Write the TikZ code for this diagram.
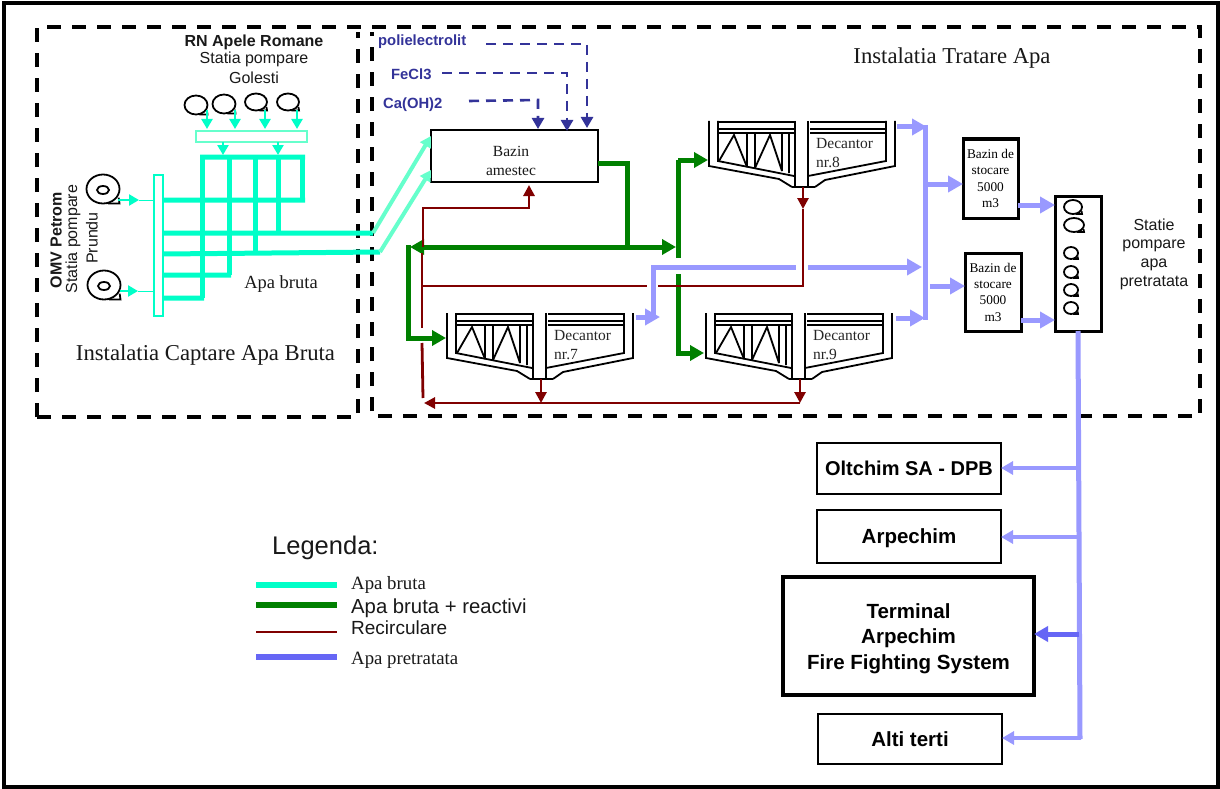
\documentclass[tikz,border=0pt]{standalone}
\usepackage{fontspec}
\setmainfont{Liberation Serif}
\setsansfont{Liberation Sans}
\usetikzlibrary{arrows.meta,calc}
\definecolor{teal1}{HTML}{00FFC8}
\definecolor{teal2}{HTML}{66FFCC}
\definecolor{grn}{HTML}{008000}
\definecolor{rec}{HTML}{800000}
\definecolor{blu}{HTML}{9999FF}
\definecolor{blud}{HTML}{6666F5}
\definecolor{reag}{HTML}{333399}
\newcommand{\fsz}[1]{\fontsize{#1}{#1}\selectfont}
\newcommand{\decanter}[3]{%
 \begin{scope}[shift={(#1,#2)}]
  \draw[decline] (0,0)--(0,45)--(70,58)--(83,66);
  \draw[decline] (9,0)--(9,40)--(85,55);
  \foreach \yy in {1,8,12}{\draw[decline] (9,\yy)--(85,\yy);\draw[decline] (101,\yy)--(176,\yy);}
  \draw[decline] (86,0)--(86,66) (99,0)--(99,66) (83,66)--(106,66);
  \draw[decline] (10,40)--(25,14)--(38,46) (38,12)--(38,46) (46,12)--(46,47);
  \draw[decline] (46,47)--(61,14)--(73,50) (73,12)--(73,50) (80,12)--(80,52);
  \draw[decline] (177,0)--(177,40)--(99,55);
  \draw[decline] (186,0)--(186,45)--(116,59)--(106,66);
 \end{scope}%
 \node[declabel,anchor=north west,align=left] (d#3) at ($(#1,#2)+(107,17)$) {Decantor\\[3.5pt]nr.#3};%
}
\newcommand{\pumpc}[4]{%
 \begin{scope}[shift={(#1,#2)},xscale=#3,yscale=#4]
  \draw[black,line width=1.8pt] (0,0) circle[radius=1];
  \draw[black,line width=1.8pt] (0.3,1)--(1,1)--(0.95,0.6);
 \end{scope}}
\tikzset{
 x=1pt,y=-1pt,
 decline/.style={black,line width=1.8pt,line cap=butt},
 declabel/.style={inner sep=0pt,font=\fsz{15.5},text=black!85},
 box/.style={draw=black,line width=2.5pt,fill=white,inner sep=0pt,align=center,outer sep=0pt},
 txt/.style={inner sep=0pt,align=center,text=black!90},
 sanstxt/.style={txt,font=\sffamily\fsz{16}},
 sansb/.style={txt,font=\sffamily\bfseries\fsz{16}},
 reagtxt/.style={inner sep=0pt,font=\sffamily\bfseries\fsz{14.8},text=reag},
 tank/.style={box,line width=3pt,font=\fsz{13.3},minimum width=55pt,minimum height=79pt},
 dest/.style={box,font=\sffamily\bfseries\fsz{20.5}},
 frontier/.style={black,line width=3.5pt,dash pattern=on 14pt off 11pt},
 rawp/.style={teal1,line width=5pt},
 rawa/.style={teal1,line width=2.5pt,-{Triangle[length=10pt,width=11pt]}},
 rawb/.style={teal2,line width=4pt,-{Triangle[length=11pt,width=12pt]}},
 greenp/.style={grn,line width=5pt},
 greena/.style={grn,line width=5pt,-{Triangle[length=14pt,width=15pt]}},
 recp/.style={rec,line width=2.8pt},
 reca/.style={rec,line width=2.8pt,-{Triangle[length=11pt,width=11pt]}},
 bluep/.style={blu,line width=5pt},
 bluea/.style={blu,line width=5pt,-{Triangle[length=15pt,width=16pt]}},
 bluec/.style={blu,line width=4pt,-{Triangle[length=12pt,width=13pt]}},
 reaga/.style={reag,line width=2.6pt,dash pattern=on 10pt off 7pt,
   arrows={-{Triangle[length=11pt,width=12pt]}}},
 legl/.style={inner sep=0pt,anchor=west,text=black!90},
}
\begin{document}
\begin{tikzpicture}
\useasboundingbox (0,0) rectangle (1220,789);
\fill[white] (0,0) rectangle (1220,789);
\draw[black,line width=4pt] (4,3) rectangle (1218,787);

% ---------- frontiers
\coordinate (tl) at (37,27);\coordinate (tr) at (1200,27);\coordinate (bl) at (37,417);
\coordinate (lb) at (358,417);\coordinate (lt) at (358,32);
\coordinate (rb) at (372,416);\coordinate (rbr) at (1200,416);\coordinate (rt) at (372,32);
\draw[frontier] (bl)--(tl)--(tr)--(rbr)--(rb)--(rt);
\draw[frontier] (bl)--(lb)--(lt);

% ---------- titles
\node[txt,font=\fsz{22.7}] (t1) at (205.5,355) {Instalatia Captare Apa Bruta};
\node[txt,font=\fsz{22.7}] (t2) at (952,58) {Instalatia Tratare Apa};
\node[txt,font=\fsz{18.5}] (t3) at (281,284) {Apa bruta};
\node[sansb] (rn) at (254,42) {RN Apele Romane};
\node[sanstxt] (sp) at (254,59) {Statia pompare};
\node[sanstxt] (go) at (254,78) {Golesti};
\node[sansb,rotate=90] (omv) at (56,240) {OMV Petrom};
\node[sanstxt,rotate=90] (sp2) at (73,239) {Statia pompare};
\node[sanstxt,rotate=90] (pr) at (92,238) {Prundu};

% ---------- raw water network
\coordinate (h1a) at (163,200);\coordinate (h1b) at (305,200);
\coordinate (h2a) at (163,233);\coordinate (h2b) at (373,233);
\coordinate (h3a) at (163,254);\coordinate (h3b) at (380,252);
\coordinate (h4a) at (163,275);\coordinate (h4b) at (231,275);
\coordinate (h5a) at (161,298);\coordinate (h5b) at (204,298);
\coordinate (tp1) at (200,157);\coordinate (tp2) at (305,157);
\draw[rawp] (h1a)--(h1b) (h2a)--(h2b) (h3a)--(h3b) (h4a)--(h4b) (h5a)--(h5b) (tp1)--(tp2);
\draw[rawp] (202,157)--(202,298) (229,157)--(229,275) (255,157)--(255,254) (278,157)--(278,233) (302,157)--(302,200);

\node[draw=teal1,line width=1.5pt,fill=white,minimum width=9pt,minimum height=141pt,inner sep=0pt] (man) at (158.5,245.5) {};
\node[draw=teal2,line width=2pt,fill=white,minimum width=111pt,minimum height=11pt,inner sep=0pt] (colg) at (251.5,136.5) {};

% pumps Golesti
\pumpc{196}{105}{11.5}{9.5}\pumpc{224}{104}{11.5}{9.5}\pumpc{256}{102}{11}{8.5}\pumpc{288}{102}{11}{8.5}
\foreach \xa in {207,235,265,297}{\draw[rawa] (\xa,110)--(\xa,129);}
\draw[rawa] (223,142)--(223,155);
\draw[rawa] (278,142)--(278,155);

% pumps Prundu
\pumpc{103}{189}{16.5}{14.5}\pumpc{104}{285}{16.5}{14.5}
\draw[black,line width=1.8pt] (103,190) circle[x radius=6pt,y radius=4pt];
\draw[black,line width=1.8pt] (104,286) circle[x radius=6pt,y radius=4pt];
\draw[rawa] (118,200)--(139,200);\draw[teal1,line width=1pt] (139,200)--(man.west |- 139,200);
\draw[rawa] (120,291)--(138,291);\draw[teal1,line width=1pt] (138,291)--(man.west |- 138,291);

% ---------- Bazin amestec
\node[box,line width=2pt,minimum width=167pt,minimum height=52pt] (bazin) at (514.5,156) {};
\node[txt,font=\fsz{15.5}] (baztxt) at (511,161) {Bazin\\[3pt]amestec};
\draw[rawb] (h2b)--(bazin.west |- 431,136);
\draw[rawb] (h3b)--(bazin.west |- 431,170);

% reagents
\node[reagtxt,anchor=west] (poli) at (378,42) {polielectrolit};
\node[reagtxt,anchor=west] (fecl) at (391,74) {FeCl3};
\node[reagtxt,anchor=west] (caoh) at (383,104.5) {Ca(OH)2};
\draw[reaga] (486,44)--(587,44)--(587,128);
\draw[reaga] (442,73)--(567,73)--(567,131);
\draw[reaga] (469,101)--(538,100)--(538,129);

% ---------- decanters
\decanter{447}{313}{7}
\decanter{709}{121}{8}
\decanter{706}{313}{9}

% ---------- green
\coordinate (gl) at (410,247);\coordinate (gr) at (676,247);
\draw[greenp,line join=miter] (bazin.east |- 598,163)--(627,163)--(627,250);
\draw[greena,{Triangle[length=14pt,width=15pt]}-{Triangle[length=14pt,width=15pt]}] (gl)--(gr);
\draw[greena] (408,245)--(408,338)--(446,338);
\draw[greenp] (678,258)--(678,160);
\draw[greena] (678,160)--(708,160);
\draw[greena] (678,274)--(678,353)--(704,353);

% ---------- recirculation
\draw[reca] (423,247)--(423,208)--(529,208)--(529,185);
\draw[recp] (422,253)--(422,328);
\draw[recp] (422,343)--(423,398);
\draw[recp] (423,286)--(647,286);
\draw[recp] (658,286)--(803,286)--(803,209);
\draw[reca] (803,187)--(803,209);
\draw[reca] (800,403)--(424,403);
\draw[reca] (541,379)--(541,403);
\draw[reca] (800,379)--(800,403);

% ---------- treated water
\node[tank] (b1) at (990.5,178.5) {Bazin de\\[3pt]stocare\\[3pt]5000\\[3pt]m3};
\node[tank,minimum width=56pt,minimum height=78pt] (b2) at (993,292) {Bazin de\\[3pt]stocare\\[3pt]5000\\[3pt]m3};
\node[box,line width=3pt,minimum width=46pt,minimum height=135pt] (st) at (1078,263.5) {};
\node[sanstxt] (stl) at (1154,254) {Statie\\[2.6pt]pompare\\[2.6pt]apa\\[2.6pt]pretratata};
\pumpc{1073}{207}{9}{7}\pumpc{1074}{225}{10}{7}
\pumpc{1071}{253}{7}{6}\pumpc{1071}{272}{7}{6}\pumpc{1071}{290}{7}{6}\pumpc{1071}{308}{7}{6}

\draw[bluea] (636,317)--(660,317);
\draw[bluep] (653,319)--(653,267)--(796,267);
\draw[bluea] (808,267)--(922,267);
\draw[bluea] (897,127)--(927,127);
\draw[bluep] (925,125)--(925,320);
\draw[bluea] (896,318)--(925,318);
\draw[bluea] (925,184)--(b1.west |- 963,184);
\draw[bluea] (930,286)--(b2.west |- 965,286);
\draw[bluea] (b1.east |- 1018,205)--(st.west |- 1055,205);
\draw[bluea] (b2.east |- 1021,320)--(st.west |- 1055,320);
\draw[bluep] (1078,331)--(1080,739);

\node[dest,font=\sffamily\bfseries\fsz{20},minimum width=184pt,minimum height=51pt] (olt) at (909,468.5) {Oltchim SA - DPB};
\node[dest,minimum width=184pt,minimum height=53pt] (arp) at (909,536.5) {\rule{0pt}{18pt}Arpechim};
\node[dest,line width=3.5pt,minimum width=251pt,minimum height=118pt] (ter) at (908.5,636) {\rule{0pt}{20pt}Terminal\\[5pt]Arpechim\\[5pt]Fire Fighting System};
\node[dest,minimum width=184pt,minimum height=50pt] (alt) at (910,739) {Alti terti};
\draw[bluec] (1079,468)--(olt.east |- 1001,468);
\draw[bluec] (1079,537)--(arp.east |- 1001,537);
\draw[blud,line width=5pt,-{Triangle[length=14pt,width=15pt]}] (1079,634)--(ter.east |- 1034,634);
\draw[bluec] (1081,738)--(alt.east |- 1001,738);

% ---------- legend
\node[inner sep=0pt,anchor=west,text=black!90,font=\sffamily\fsz{25.5}] (leg) at (272,548) {Legenda:};
\coordinate (l1a) at (256,585);\coordinate (l1b) at (337,585);
\coordinate (l2a) at (256,605);\coordinate (l2b) at (337,605);
\coordinate (l3a) at (256,632);\coordinate (l3b) at (337,632);
\coordinate (l4a) at (256,657);\coordinate (l4b) at (337,657);
\draw[teal1,line width=5.5pt] (l1a)--(l1b);
\draw[grn,line width=5.5pt] (l2a)--(l2b);
\draw[rec,line width=2.5pt] (l3a)--(l3b);
\draw[blud,line width=5.5pt] (l4a)--(l4b);
\node[legl,font=\fsz{18.8}] (lt1) at (351,585) {Apa bruta};
\node[legl,font=\sffamily\fsz{20.3}] (lt2) at (351,608.5) {Apa bruta + reactivi};
\node[legl,font=\sffamily\fsz{19}] (lt3) at (351,628) {Recirculare};
\node[legl,font=\fsz{18.8}] (lt4) at (351,660) {Apa pretratata};
\end{tikzpicture}
\end{document}
